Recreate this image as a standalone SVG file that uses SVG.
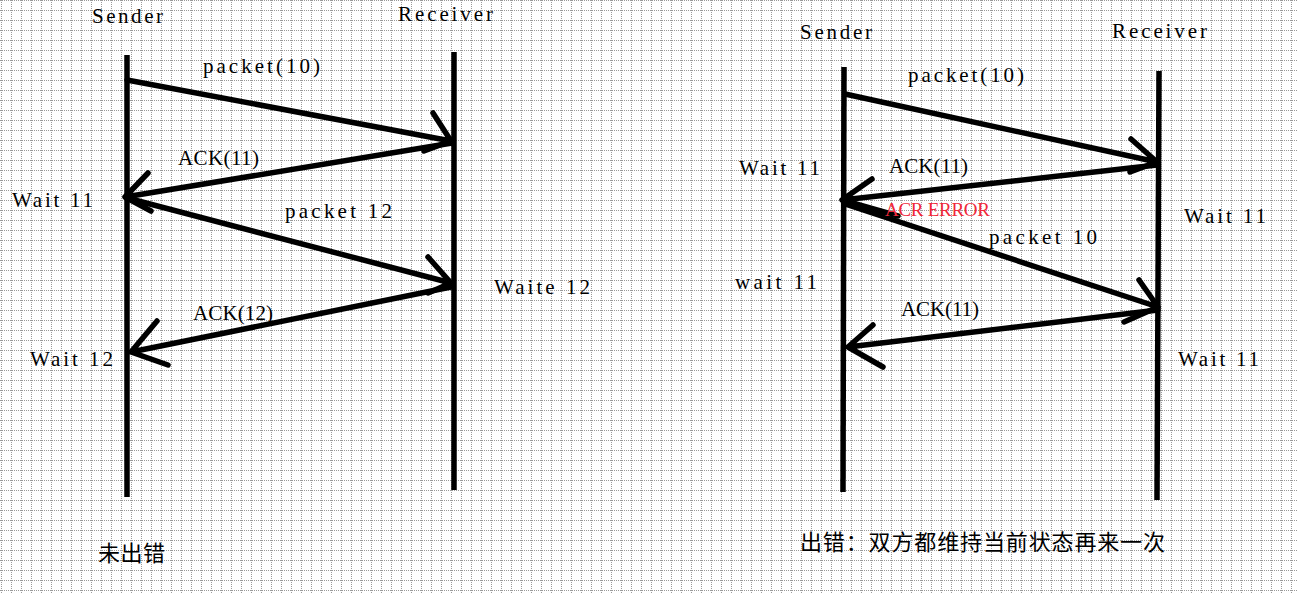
<svg xmlns="http://www.w3.org/2000/svg" width="1297" height="594" viewBox="0 0 1297 594">
<defs>
<pattern id="grid" width="10" height="10" patternUnits="userSpaceOnUse">
<path d="M1.5 0V10M0 0.5H10" stroke="#9a9a9a" stroke-width="1" stroke-dasharray="1 1" fill="none"/>
</pattern>
</defs>
<style>
.t{font-family:"Liberation Serif","Noto Sans CJK SC",serif;font-size:21px;fill:#000}
.cjk{font-family:"Noto Sans CJK SC",sans-serif;font-size:22px;fill:#000}
.red{fill:#f0283a;font-size:19px}
.life{stroke:#000;stroke-width:5.5;fill:none;stroke-linecap:butt}
.arr{stroke:#000;stroke-width:5.5;fill:none;stroke-linecap:round;stroke-linejoin:round}
</style>
<rect width="1297" height="594" fill="#fff"/>
<rect width="1297" height="594" fill="url(#grid)"/>

<g id="left-sender">
<path class="life" d="M127,55 L127,497"/>
<text class="t" x="92" y="23" textLength="71" lengthAdjust="spacing">Sender</text>
</g>
<g id="left-receiver">
<path class="life" d="M454,52 L454,490"/>
<text class="t" x="398" y="21" textLength="95" lengthAdjust="spacing">Receiver</text>
</g>
<g id="right-sender">
<path class="life" d="M844,67 L843,492"/>
<text class="t" x="800" y="39" textLength="72" lengthAdjust="spacing">Sender</text>
</g>
<g id="right-receiver">
<path class="life" d="M1159,71 L1157,500"/>
<text class="t" x="1112" y="38" textLength="95" lengthAdjust="spacing">Receiver</text>
</g>

<g id="connectors">
<path class="arr" d="M127,80 L451,141 M433,113 L451,141 L424,151"/>
<path class="arr" d="M452,143 L125,197 M148,173 L125,197 L151,211"/>
<path class="arr" d="M127,198 L451,283 M428,257 L451,283 L428,293"/>
<path class="arr" d="M451,287 L131,352 M157,321 L131,352 L168,365"/>
<path class="arr" d="M845,94 L1157,162 M1131,139 L1157,162 L1130,172"/>
<path class="arr" d="M1157,165 L842,200 M872,179 L842,200 L898,216"/>
<path class="arr" d="M845,204 L1158,307 M1139,280 L1158,307 L1124,322"/>
<path class="arr" d="M1158,310 L848,347 M873,325 L848,347 L883,367"/>
</g>

<g id="left-labels">
<text class="t" x="203" y="73" textLength="117" lengthAdjust="spacing">packet(10)</text>
<text class="t" x="178" y="165" textLength="81" lengthAdjust="spacing">ACK(11)</text>
<text class="t" x="12" y="207" textLength="81" lengthAdjust="spacing">Wait 11</text>
<text class="t" x="285" y="218" textLength="107" lengthAdjust="spacing">packet 12</text>
<text class="t" x="494" y="294" textLength="96" lengthAdjust="spacing">Waite 12</text>
<text class="t" x="193" y="320" textLength="80" lengthAdjust="spacing">ACK(12)</text>
<text class="t" x="30" y="366" textLength="83" lengthAdjust="spacing">Wait 12</text>
<text class="cjk" x="98" y="561" textLength="67" lengthAdjust="spacing">未出错</text>
</g>

<g id="right-labels">
<text class="t" x="908" y="82" textLength="116" lengthAdjust="spacing">packet(10)</text>
<text class="t" x="889" y="173" textLength="79" lengthAdjust="spacing">ACK(11)</text>
<text class="t" x="739" y="175" textLength="81" lengthAdjust="spacing">Wait 11</text>
<text class="t red" x="885" y="216" textLength="105" lengthAdjust="spacing">ACR ERROR</text>
<text class="t" x="989" y="244" textLength="108" lengthAdjust="spacing">packet 10</text>
<text class="t" x="1184" y="223" textLength="82" lengthAdjust="spacing">Wait 11</text>
<text class="t" x="735" y="289" textLength="82" lengthAdjust="spacing">wait 11</text>
<text class="t" x="901" y="316" textLength="78" lengthAdjust="spacing">ACK(11)</text>
<text class="t" x="1178" y="366" textLength="81" lengthAdjust="spacing">Wait 11</text>
<text class="cjk" x="800" y="550" textLength="365" lengthAdjust="spacing">出错：双方都维持当前状态再来一次</text>
</g>
</svg>
